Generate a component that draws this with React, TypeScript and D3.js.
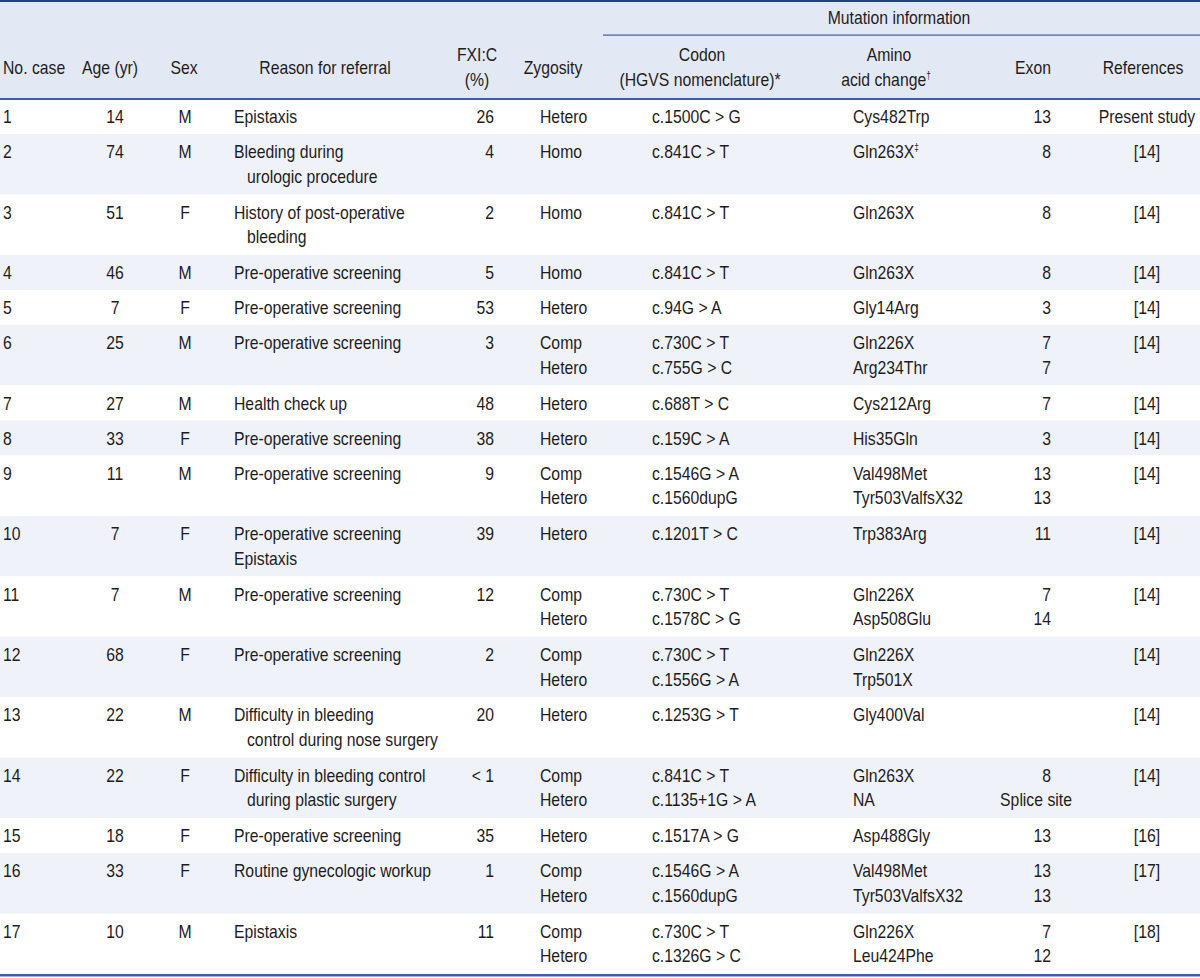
import React from "react";
import * as d3 from "d3";

// ---------- data ----------
const caseNos = ["1","2","3","4","5","6","7","8","9","10","11","12","13","14","15","16","17"];
const ages = ["14","74","51","46","7","25","27","33","11","7","7","68","22","22","18","33","10"];
const sexes = ["M","M","F","M","F","M","M","F","M","F","M","F","M","F","F","F","M"];
const reasons: string[][] = [
  ["Epistaxis"],
  ["Bleeding during\nurologic procedure"],
  ["History of post-operative\nbleeding"],
  ["Pre-operative screening"],
  ["Pre-operative screening"],
  ["Pre-operative screening"],
  ["Health check up"],
  ["Pre-operative screening"],
  ["Pre-operative screening"],
  ["Pre-operative screening", "Epistaxis"],
  ["Pre-operative screening"],
  ["Pre-operative screening"],
  ["Difficulty in bleeding\ncontrol during nose surgery"],
  ["Difficulty in bleeding control\nduring plastic surgery"],
  ["Pre-operative screening"],
  ["Routine gynecologic workup"],
  ["Epistaxis"],
];
const fxic = ["26","4","2","5","53","3","48","38","9","39","12","2","20","< 1","35","1","11"];
const zygosity: string[][] = [
  ["Hetero"],["Homo"],["Homo"],["Homo"],["Hetero"],["Comp","Hetero"],["Hetero"],["Hetero"],
  ["Comp","Hetero"],["Hetero"],["Comp","Hetero"],["Comp","Hetero"],["Hetero"],["Comp","Hetero"],
  ["Hetero"],["Comp","Hetero"],["Comp","Hetero"],
];
const codons: string[][] = [
  ["c.1500C > G"],["c.841C > T"],["c.841C > T"],["c.841C > T"],["c.94G > A"],
  ["c.730C > T","c.755G > C"],["c.688T > C"],["c.159C > A"],["c.1546G > A","c.1560dupG"],
  ["c.1201T > C"],["c.730C > T","c.1578C > G"],["c.730C > T","c.1556G > A"],["c.1253G > T"],
  ["c.841C > T","c.1135+1G > A"],["c.1517A > G"],["c.1546G > A","c.1560dupG"],["c.730C > T","c.1326G > C"],
];
const aminos: string[][] = [
  ["Cys482Trp"],["Gln263X‡"],["Gln263X"],["Gln263X"],["Gly14Arg"],
  ["Gln226X","Arg234Thr"],["Cys212Arg"],["His35Gln"],["Val498Met","Tyr503ValfsX32"],
  ["Trp383Arg"],["Gln226X","Asp508Glu"],["Gln226X","Trp501X"],["Gly400Val"],
  ["Gln263X","NA"],["Asp488Gly"],["Val498Met","Tyr503ValfsX32"],["Gln226X","Leu424Phe"],
];
const exons: string[][] = [
  ["13"],["8"],["8"],["8"],["3"],["7","7"],["7"],["3"],["13","13"],["11"],["7","14"],[],[],
  ["8","Splice site"],["13"],["13","13"],["7","12"],
];
const refs = ["Present study","[14]","[14]","[14]","[14]","[14]","[14]","[14]","[14]","[14]","[14]","[14]","[14]","[14]","[16]","[17]","[18]"];

// ---------- style ----------
const W = 1200, H = 978;
const FONT = "'Liberation Sans', Arial, sans-serif";
const FS = 19;
const SX = 0.83;
const TXT = "#1f1c1d";
const HEAD_BG = "#e3e9f4";
const BAND_BG = "#eff3f9";
const LINE = "#3a5fa5";
const HEADER_BOTTOM = 99;
const TABLE_BOTTOM = 974;
const LINE_GAP = 24.5;

function T({ x, y, anchor = "start", children, size = FS }: any) {
  return (
    <text
      transform={`translate(${x},${y}) scale(${SX},1)`}
      textAnchor={anchor}
      fontFamily={FONT}
      fontSize={size}
      fill={TXT}
    >
      {children}
    </text>
  );
}

function withSup(s: string) {
  const m = s.match(/^(.*?)([†‡])$/);
  if (!m) return s;
  return (
    <>
      {m[1]}
      <tspan fontSize={10} dy={-7}>{m[2]}</tspan>
    </>
  );
}

export default function App() {
  const n = caseNos.length;
  const lineCounts = d3.range(n).map((i) =>
    Math.max(
      1,
      reasons[i].reduce((a, r) => a + r.split("\n").length, 0),
      zygosity[i].length,
      codons[i].length,
      aminos[i].length,
      exons[i].length
    )
  );
  const extra = d3.sum(lineCounts, (c) => c - 1);
  const total = TABLE_BOTTOM - HEADER_BOTTOM;
  const singleH = 35;
  const extraH = (total - n * singleH) / extra;
  const heights = lineCounts.map((c) => singleH + (c - 1) * extraH);
  const tops = [0, ...Array.from(d3.cumsum(heights))].map((v) => HEADER_BOTTOM + v);

  const yLine = (i: number, j: number) => tops[i] + 17.5 + j * LINE_GAP + 6.8;

  const colX = {
    caseNo: 3,
    age: 115,
    sex: 185,
    reason: 234,
    reasonIndent: 247,
    fxi: 494,
    zyg: 540,
    codon: 652,
    amino: 853,
    exonRight: 1051,
    exonCenter: 1036,
    ref: 1147,
  };

  return (
    <svg
      width={W}
      height={H}
      viewBox={`0 0 ${W} ${H}`}
      style={{ position: "absolute", left: 0, top: 0, background: "#fff" }}
    >
      <rect x={0} y={0} width={W} height={HEADER_BOTTOM} fill={HEAD_BG} />
      {d3.range(n).map((i) =>
        i % 2 === 1 ? (
          <rect key={"b" + i} x={0} y={tops[i]} width={W} height={heights[i]} fill={BAND_BG} />
        ) : null
      )}
      <rect x={0} y={0} width={W} height={2} fill="#22427f" />
      <rect x={603} y={34.5} width={W - 603} height={1.2} fill={LINE} />
      <rect x={0} y={HEADER_BOTTOM - 1} width={W} height={2} fill={LINE} />
      <rect x={0} y={TABLE_BOTTOM} width={W} height={2} fill={LINE} />
      <rect x={0} y={TABLE_BOTTOM + 2} width={W} height={1} fill="#9fb6e0" />

      <T x={3} y={74}>No. case</T>
      <T x={110} y={74} anchor="middle">Age (yr)</T>
      <T x={184} y={74} anchor="middle">Sex</T>
      <T x={325} y={74} anchor="middle">Reason for referral</T>
      <T x={477} y={61} anchor="middle">FXI:C</T>
      <T x={477} y={86} anchor="middle">(%)</T>
      <T x={553} y={74} anchor="middle">Zygosity</T>
      <T x={899} y={24} anchor="middle">Mutation information</T>
      <T x={702} y={61} anchor="middle">Codon</T>
      <T x={700} y={86} anchor="middle">(HGVS nomenclature)*</T>
      <T x={889} y={61} anchor="middle">Amino</T>
      <T x={886} y={86} anchor="middle">{withSup("acid change†")}</T>
      <T x={1033} y={74} anchor="middle">Exon</T>
      <T x={1143} y={74} anchor="middle">References</T>

      {d3.range(n).map((i) => {
        let k = 0;
        const reasonEls: any[] = [];
        reasons[i].forEach((r, ri) => {
          r.split("\n").forEach((ln, li) => {
            reasonEls.push(
              <T key={`r${ri}-${li}`} x={li === 0 ? colX.reason : colX.reasonIndent} y={yLine(i, k)}>
                {ln}
              </T>
            );
            k++;
          });
        });
        return (
          <g key={"row" + i}>
            <T x={colX.caseNo} y={yLine(i, 0)}>{caseNos[i]}</T>
            <T x={colX.age} y={yLine(i, 0)} anchor="middle">{ages[i]}</T>
            <T x={colX.sex} y={yLine(i, 0)} anchor="middle">{sexes[i]}</T>
            {reasonEls}
            <T x={colX.fxi} y={yLine(i, 0)} anchor="end">{fxic[i]}</T>
            {zygosity[i].map((z, j) => (
              <T key={"z" + j} x={colX.zyg} y={yLine(i, j)}>{z}</T>
            ))}
            {codons[i].map((c, j) => (
              <T key={"c" + j} x={colX.codon} y={yLine(i, j)}>{c}</T>
            ))}
            {aminos[i].map((a, j) => (
              <T key={"a" + j} x={colX.amino} y={yLine(i, j)}>{withSup(a)}</T>
            ))}
            {exons[i].map((e, j) => {
              const numeric = /^\d+$/.test(e);
              return (
                <T
                  key={"e" + j}
                  x={numeric ? colX.exonRight : colX.exonCenter}
                  y={yLine(i, j)}
                  anchor={numeric ? "end" : "middle"}
                >
                  {e}
                </T>
              );
            })}
            <T x={colX.ref} y={yLine(i, 0)} anchor="middle">{refs[i]}</T>
          </g>
        );
      })}
    </svg>
  );
}
